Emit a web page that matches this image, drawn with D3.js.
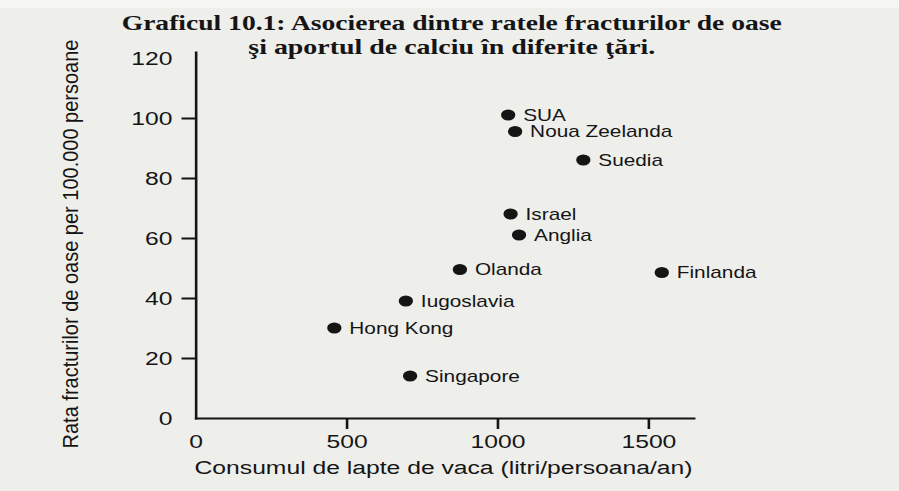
<!DOCTYPE html>
<html>
<head>
<meta charset="utf-8">
<script src="https://cdn.jsdelivr.net/npm/d3@7"></script>
<style>
  html, body { margin: 0; padding: 0; background: #eeeeeb; }
  svg { display: block; }
</style>
</head>
<body>
<svg id="chart" width="899" height="491"></svg>
<script>
// Countries, milk consumption (litres/person/year) and hip-fracture rate (per 100,000)
const countries = ["SUA", "Noua Zeelanda", "Suedia", "Israel", "Anglia", "Olanda",
                   "Finlanda", "Iugoslavia", "Hong Kong", "Singapore"];
const milkLitres = [1036, 1059, 1285, 1044, 1072, 876, 1545, 697, 460, 711];
const fractureRate = [101, 95.5, 86, 68, 61, 49.5, 48.5, 39, 30, 14];

const yTickValues = [0, 20, 40, 60, 80, 100, 120];
const xTickValues = [0, 500, 1000, 1500];

const titleLines = [
  "Graficul 10.1: Asocierea dintre ratele fracturilor de oase",
  "şi aportul de calciu în diferite ţări."
];
const xTitle = "Consumul de lapte de vaca (litri/persoana/an)";
const yTitle = "Rata fracturilor de oase per 100.000 persoane";

const W = 899, H = 491;
const SX = 1.3;            // horizontal stretch of the printed figure
const ink = "#151515";
const sans = "'Liberation Sans', Arial, Helvetica, sans-serif";

const svg = d3.select("#chart");
svg.append("rect").attr("width", W).attr("height", H).attr("fill", "#eeeeeb");
svg.append("rect").attr("width", W).attr("height", 8).attr("fill", "#f6f6f5");

// Title (two centred serif lines)
const titleX = [121.7, 248.3], titleY = [29.5, 54], titleW = [660, 407];
svg.append("g")
  .attr("font-family", "'Liberation Serif', 'Times New Roman', serif")
  .attr("font-weight", "bold")
  .attr("font-size", 21.5)
  .attr("fill", ink)
  .selectAll("text")
  .data(titleLines)
  .join("text")
  .attr("x", (d, i) => titleX[i])
  .attr("y", (d, i) => titleY[i])
  .attr("textLength", (d, i) => titleW[i])
  .attr("lengthAdjust", "spacingAndGlyphs")
  .text(d => d);

// Plot area, drawn in a horizontally stretched coordinate space
const g = svg.append("g").attr("transform", `scale(${SX},1)`);

const x = d3.scaleLinear().domain([0, 1650]).range([195.5 / SX, 693.5 / SX]);
const y = d3.scaleLinear().domain([0, 122]).range([418, 52]);
const fmt = d3.format("d");

function styleAxis(sel, skipValues) {
  sel.attr("font-family", sans).attr("font-size", 19);
  sel.select(".domain")
    .attr("stroke", ink).attr("stroke-width", 2).attr("stroke-linecap", "square");
  sel.selectAll(".tick line")
    .attr("stroke", ink).attr("stroke-width", 2)
    .attr("display", d => skipValues.includes(d) ? "none" : null);
  sel.selectAll(".tick text").attr("fill", ink);
}

// Y axis
g.append("g")
  .attr("transform", `translate(${x(0)},0)`)
  .call(d3.axisLeft(y).tickValues(yTickValues).tickFormat(fmt)
          .tickSize(14 / SX).tickPadding(9 / SX).tickSizeOuter(0))
  .call(styleAxis, [0, 120]);

// X axis
g.append("g")
  .attr("transform", `translate(0,${y(0)})`)
  .call(d3.axisBottom(x).tickValues(xTickValues).tickFormat(fmt)
          .tickSize(11).tickPadding(6).tickSizeOuter(0))
  .call(styleAxis, [0]);

// Axis titles
g.append("text")
  .attr("x", 443.5 / SX).attr("y", 474)
  .attr("text-anchor", "middle")
  .attr("font-family", sans).attr("font-size", 19).attr("fill", ink)
  .text(xTitle);

svg.append("text")
  .attr("transform", "translate(78,244) rotate(-90) scale(1,1.12)")
  .attr("text-anchor", "middle")
  .attr("font-family", sans).attr("font-size", 20).attr("fill", ink)
  .text(yTitle);

// Points and country labels
const idx = d3.range(countries.length);

g.append("g").selectAll("circle")
  .data(idx).join("circle")
  .attr("cx", i => x(milkLitres[i]))
  .attr("cy", i => y(fractureRate[i]))
  .attr("r", 5.5)
  .attr("fill", ink);

g.append("g")
  .attr("font-family", sans).attr("font-size", 16).attr("fill", ink)
  .selectAll("text")
  .data(idx).join("text")
  .attr("x", i => x(milkLitres[i]) + 15 / SX)
  .attr("y", i => y(fractureRate[i]))
  .attr("dy", "0.36em")
  .text(i => countries[i]);
</script>
</body>
</html>
